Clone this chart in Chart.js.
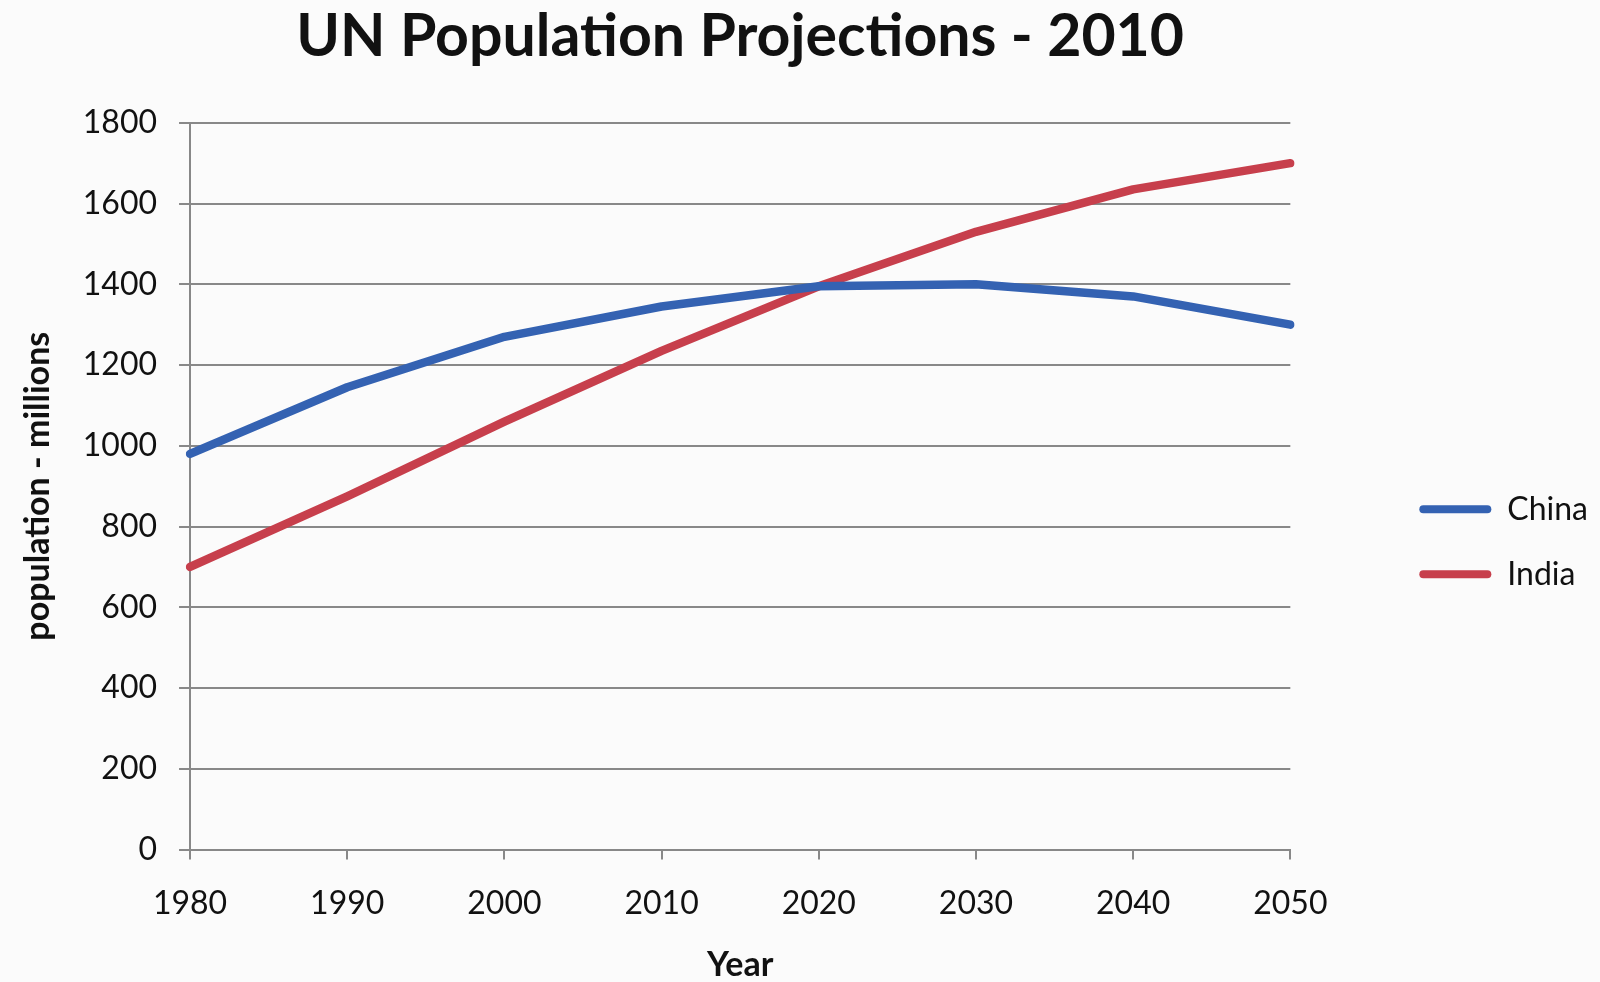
<!DOCTYPE html>
<html>
<head>
<meta charset="utf-8">
<title>UN Population Projections - 2010</title>
<script src="https://cdn.jsdelivr.net/npm/chart.js@4.4.0/dist/chart.umd.min.js"></script>
<style>
  html, body { margin: 0; padding: 0; background: #fbfbfb; }
  #wrap { width: 1600px; height: 982px; }
</style>
</head>
<body>
<div id="wrap"><canvas id="popChart"></canvas></div>
<script>
const years = ["1980", "1990", "2000", "2010", "2020", "2030", "2040", "2050"];
const china = [980, 1145, 1270, 1345, 1395, 1400, 1370, 1300];
const india = [700, 875, 1060, 1235, 1395, 1530, 1635, 1700];
const yTicks = { min: 0, max: 1800, step: 200 };

const gridGray = "#888888";
const fontFamily = "Lato, 'Open Sans', sans-serif";

new Chart(document.getElementById("popChart"), {
    type: "line",
    data: {
        labels: years,
        datasets: [
            {
                label: "China",
                data: china,
                borderColor: "#3462b2",
                backgroundColor: "#3462b2",
                borderWidth: 8.5,
                pointRadius: 0,
                borderCapStyle: "round",
                borderJoinStyle: "round",
            },
            {
                label: "India",
                data: india,
                borderColor: "#c73f4c",
                backgroundColor: "#c73f4c",
                borderWidth: 8.5,
                pointRadius: 0,
                borderCapStyle: "round",
                borderJoinStyle: "round",
            },
        ],
    },
    options: {
        responsive: true,
        maintainAspectRatio: false,
        animation: false,
        layout: { padding: { left: 0, right: 2, top: 0, bottom: 0 } },
        plugins: {
            title: {
                display: true,
                text: "UN Population Projections - 2010",
                fullSize: false,
                color: "#111",
                font: { family: fontFamily, size: 59, weight: "bold" },
                padding: { top: 2, bottom: 50 },
            },
            legend: {
                position: "right",
                title: { display: true, text: "", font: { size: 12 }, padding: { top: 87, bottom: 0 } },
                labels: {
                    color: "#111",
                    font: { family: fontFamily, size: 32 },
                    boxWidth: 72,
                    boxHeight: 8,
                    padding: 33,
                    useBorderRadius: true,
                    borderRadius: 4,
                    generateLabels: (chart) =>
                        Chart.defaults.plugins.legend.labels.generateLabels(chart).map((item) => ({
                            ...item,
                            fillStyle: item.strokeStyle,
                            lineWidth: 0,
                        })),
                },
            },
            tooltip: { enabled: false },
        },
        scales: {
            x: {
                grid: { drawOnChartArea: false, drawTicks: true, tickLength: 10, color: gridGray, lineWidth: 2 },
                border: { color: gridGray, width: 2 },
                ticks: { color: "#111", font: { family: fontFamily, size: 32 }, padding: 25, maxRotation: 0 },
                title: {
                    display: true,
                    text: "Year",
                    color: "#111",
                    font: { family: fontFamily, size: 34, weight: "bold", lineHeight: 1 },
                    padding: { top: 0, bottom: 0 },
                },
            },
            y: {
                min: yTicks.min,
                max: yTicks.max,
                grid: { color: gridGray, lineWidth: 2, tickLength: 11 },
                border: { color: gridGray, width: 2 },
                ticks: {
                    stepSize: yTicks.step,
                    color: "#111",
                    font: { family: fontFamily, size: 32 },
                    padding: 22,
                    callback: (v) => String(v),
                },
                title: {
                    display: true,
                    text: "population - millions",
                    color: "#111",
                    font: { family: fontFamily, size: 34, weight: "bold" },
                    padding: { top: 18, bottom: 2 },
                },
            },
            // empty spacer between the plot and the legend
            gap: {
                type: "linear",
                position: "right",
                display: true,
                grid: { display: false },
                border: { display: false },
                ticks: { display: false },
                afterFit: (scale) => { scale.width = 96; },
            },
        },
    },
});
</script>
</body>
</html>
